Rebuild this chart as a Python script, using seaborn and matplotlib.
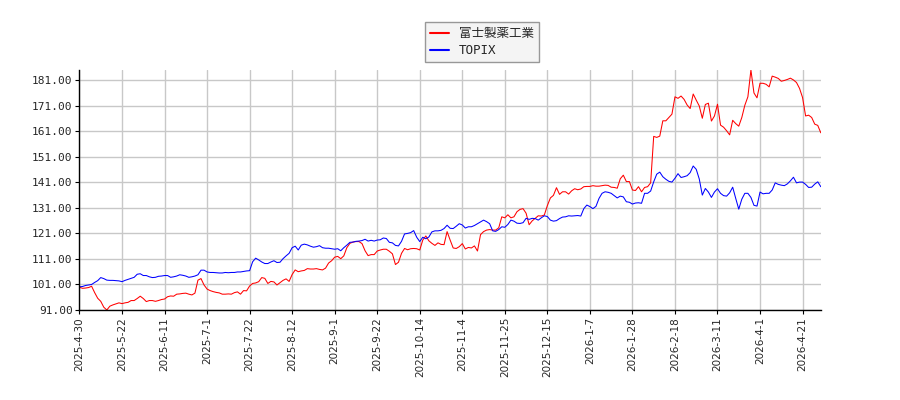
import numpy as np
import pandas as pd
import matplotlib
matplotlib.use("Agg")
import matplotlib.pyplot as plt
import seaborn as sns

# series values (one value per trading day)
fuji = [
    99.9, 99.5, 99.6, 99.8, 100.3, 97.8, 95.6, 94.4, 92.1, 91.0,
    92.5, 93.0, 93.4, 93.8, 93.5, 93.8, 94.0, 94.7, 94.7, 95.5,
    96.4, 95.5, 94.3, 94.7, 94.7, 94.4, 94.7, 95.1, 95.3, 96.2,
    96.5, 96.4, 97.2, 97.3, 97.5, 97.6,
    97.2, 96.9, 97.6, 102.7, 103.3, 100.8, 99.2, 98.6, 98.2, 97.9,
    97.7, 97.2, 97.2, 97.3, 97.2, 97.8, 98.1, 97.2, 98.6, 98.5,
    100.4, 101.4, 101.6, 102.1, 103.7, 103.4, 101.4, 102.2, 102.0, 100.8,
    101.7, 102.6, 103.2, 102.2,
    104.9, 106.7, 106.0, 106.3, 106.5, 107.2, 107.05, 107.05, 107.2, 106.9,
    106.7, 107.4, 109.4, 110.3, 111.7, 112.0, 111.1, 112.2, 115.4, 117.1,
    117.6, 117.8, 117.8, 117.0, 114.2, 112.3, 112.7, 112.7, 114.1, 114.5,
    114.8, 114.8, 114.0, 113.0, 108.8, 109.7, 113.2, 115.1, 114.6, 115.0,
    115.1, 115.0, 114.5, 118.4, 120.0, 118.1, 117.1, 116.3,
    117.3, 116.7, 116.6, 121.7, 118.4, 115.3, 115.1, 115.8, 117.0, 114.9,
    115.5, 115.3, 116.1, 114.1, 120.5, 121.7, 122.3, 122.5, 122.3, 122.3,
    123.2, 127.5, 127.1, 128.3, 127.1, 127.5, 129.5, 130.4, 130.7, 128.9,
    124.4, 125.9, 126.9, 127.9, 127.8, 128.2, 131.9, 134.9, 135.9, 138.9,
    136.3, 137.3, 137.3, 136.4, 137.7, 138.5, 138.1, 138.4,
    139.3, 139.4, 139.4, 139.7, 139.5, 139.5, 139.7, 139.9, 139.8, 139.1,
    139.0, 138.7, 142.4, 143.8, 141.3, 141.3, 138.0, 137.8, 139.3, 137.3,
    139.0, 139.3, 140.8, 159.0, 158.6, 159.1, 165.1, 165.1, 166.4, 167.7,
    174.5, 173.9, 174.8, 173.5, 171.3, 169.9, 175.6, 173.2, 170.9, 166.1,
    171.5, 172.0, 165.0, 167.0, 171.6, 163.4, 162.6, 161.2, 159.6, 165.3,
    164.0, 163.0, 166.4, 171.2, 174.5, 185.0, 176.0, 174.1, 179.8, 179.8,
    179.4, 178.4, 182.6, 182.2, 181.7, 180.6, 180.9, 181.3, 181.8, 181.1,
    180.1, 177.8, 174.2, 167.0, 167.3, 166.4, 163.8, 163.3, 160.4,
]

topix = [
    100.1, 100.2, 100.6, 100.8, 101.0, 101.8, 102.5, 103.7, 103.3, 102.7,
    102.6, 102.6, 102.5, 102.4, 102.1, 102.6, 103.0, 103.4, 103.8, 105.0,
    105.2, 104.5, 104.5, 104.0, 103.7, 103.8, 104.2, 104.3, 104.5, 104.5,
    103.8, 104.0, 104.3, 104.8, 104.6, 104.3,
    103.8, 104.0, 104.3, 104.8, 106.6, 106.6, 105.9, 105.7, 105.7, 105.6,
    105.5, 105.5, 105.7, 105.6, 105.7, 105.7, 105.9, 105.9, 106.1, 106.3,
    106.4, 109.9, 111.3, 110.6, 109.8, 109.2, 109.2, 109.8, 110.3, 109.6,
    109.7, 111.1, 112.2, 113.2,
    115.4, 116.0, 114.5, 116.4, 116.8, 116.5, 116.0, 115.6, 115.8, 116.2,
    115.4, 115.2, 115.2, 115.0, 114.8, 115.0, 114.2, 115.4, 116.4, 117.5,
    117.6, 117.9, 118.0, 118.2, 118.7, 118.0, 118.3, 118.0, 118.4, 118.5,
    119.2, 119.0, 117.5, 117.3, 116.3, 116.1, 117.9, 120.8, 121.0, 121.3,
    122.1, 119.5, 117.8, 119.5, 118.9, 119.6,
    121.6, 122.0, 122.0, 122.2, 122.9, 124.2, 123.0, 122.9, 123.8, 124.8,
    124.3, 123.1, 123.6, 123.6, 124.1, 124.8, 125.5, 126.2, 125.6, 124.8,
    122.0, 121.8, 122.5, 123.6, 123.4, 124.5, 126.2, 125.8, 125.0, 124.9,
    125.2, 126.9, 126.5, 126.9, 126.8, 126.2, 127.1, 127.9, 127.6, 126.2,
    125.8, 126.0, 126.8, 127.4, 127.5, 127.9, 127.8, 127.9, 128.0, 127.8,
    130.7, 132.1, 131.5, 130.7, 131.6, 134.7, 136.7, 137.3, 137.1, 136.7,
    135.8, 134.9, 135.6, 135.3, 133.4, 133.2, 132.5, 132.9, 133.0, 132.8,
    136.7, 136.7, 137.6, 141.2, 144.2, 145.0, 143.2, 142.2, 141.4, 141.1,
    142.6, 144.4, 142.9, 143.2, 143.6, 144.8, 147.4, 146.1, 142.3, 136.0,
    138.6, 137.2, 135.1, 137.2, 138.5, 136.7, 135.8, 135.6, 136.9, 139.1,
    134.7, 130.5, 134.4, 136.7, 136.7, 135.1, 132.0, 131.7, 137.2, 136.5,
    136.7, 136.7, 138.0, 140.8, 140.2, 139.9, 139.7, 140.4, 141.6, 143.0,
    140.8, 141.1, 141.1, 140.2, 139.0, 139.1, 140.3, 141.2, 139.3,
]

date_labels = [
    "2025-4-30", "2025-5-22", "2025-6-11", "2025-7-1", "2025-7-22",
    "2025-8-12", "2025-9-1", "2025-9-22", "2025-10-14", "2025-11-4",
    "2025-11-25", "2025-12-15", "2026-1-7", "2026-1-28", "2026-2-18",
    "2026-3-11", "2026-4-1", "2026-4-21",
]
tick_step = 14

names = ["富士製薬工業", "TOPIX"]
colors = {"富士製薬工業": "#ff0000", "TOPIX": "#0000ff"}

sns.set_style("white")
plt.rcParams["font.family"] = ["DejaVu Sans Mono", "Noto Sans CJK JP"]

df = pd.concat([
    pd.DataFrame({"day": np.arange(len(fuji)), "value": fuji, "name": names[0]}),
    pd.DataFrame({"day": np.arange(len(topix)), "value": topix, "name": names[1]}),
])

fig = plt.figure(figsize=(9, 4), dpi=100)
ax = fig.add_axes([0.0883, 0.225, 0.8237, 0.6])

sns.lineplot(data=df, x="day", y="value", hue="name", hue_order=names,
             palette=colors, linewidth=0.75, ax=ax, legend=False)

lo = min(min(fuji), min(topix))
hi = max(max(fuji), max(topix))
ax.set_ylim(lo, hi)
ax.set_xlim(0, len(fuji) - 1)
yt = np.arange(lo, hi, 10)
ax.set_yticks(yt)
ax.set_yticklabels([f"{v:.2f}" for v in yt], fontsize=8)
ax.set_xticks(np.arange(len(date_labels)) * tick_step)
ax.set_xticklabels(date_labels, rotation=90, fontsize=7.5,
                   family=["DejaVu Sans"])
ax.set_xlabel("")
ax.set_ylabel("")

ax.grid(True, color="#c8c8c8", linewidth=1)
ax.set_axisbelow(True)
for s in ["top", "right"]:
    ax.spines[s].set_visible(False)
for s in ["left", "bottom"]:
    ax.spines[s].set_color("black")
    ax.spines[s].set_linewidth(1)
ax.tick_params(axis="both", direction="out", length=3, width=0.8,
               color="black", pad=2, left=True, bottom=True)

handles = [plt.Line2D([], [], color=colors[n], linewidth=1.5) for n in names]
leg = fig.legend(handles, names, loc="upper center",
                 bbox_to_anchor=(482 / 900, 1 - 16 / 400), fontsize=9,
                 fancybox=False, frameon=True, handlelength=1.5,
                 borderpad=0.4, labelspacing=0.3)
leg.get_frame().set_facecolor("#f2f2f2")
leg.get_frame().set_edgecolor("#808080")

fig.savefig("out.png", dpi=100)
